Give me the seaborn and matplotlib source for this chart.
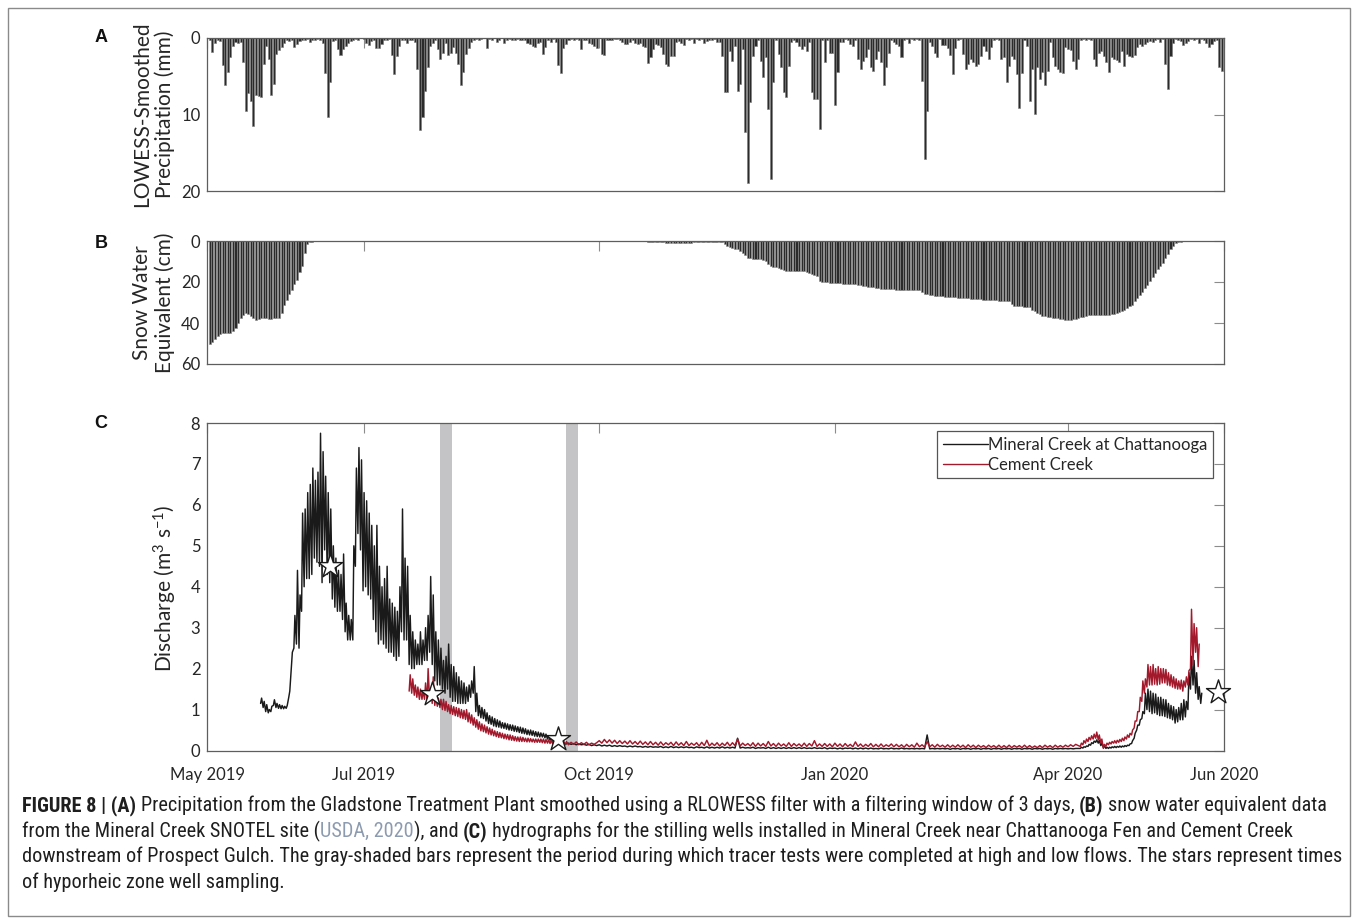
import numpy as np
import pandas as pd
import matplotlib
matplotlib.use("Agg")
import matplotlib.pyplot as plt
import seaborn as sns
from matplotlib.lines import Line2D
from matplotlib.patches import Rectangle
from matplotlib import font_manager

# ---------------- data ----------------
precip_start = "2019-05-01"
precip_mm = [
    0, 0.3, 1.8, 0.6, 0.3, 0.4, 3.5, 6.1, 4.4, 2.5,
    1.0, 0.5, 0.6, 0.5, 3.2, 9.5, 7.2, 8.2, 11.5, 7.4,
    7.6, 7.7, 3.4, 1.0, 2.7, 7.5, 6.0, 2.1, 1.6, 1.2,
    0.6, 0.3, 0.4, 0.2, 1.2, 0.8, 0.4, 0.2, 0.3, 0.1,
    0.5, 0.2, 0.3, 0.1, 0.2, 0.6, 4.6, 10.3, 5.8, 0.4,
    0.3, 1.4, 2.2, 1.4, 1.0, 0.6, 0.4, 0.2, 0.1, 0.2,
    0.0, 0.1, 0.6, 0.9, 0.4, 0.2, 1.3, 1.3, 0.8, 0.2,
    0.3, 0.1, 2.2, 4.7, 2.4, 1.0, 0.3, 0.2, 0.6, 0.2,
    0.3, 0.5, 4.1, 12.0, 10.3, 6.9, 3.8, 1.0, 0.6, 0.3,
    1.4, 2.8, 1.9, 0.6, 2.2, 1.9, 1.2, 1.9, 3.4, 6.1,
    4.4, 2.1, 1.3, 0.5, 0.2, 0.1, 0.2, 0.1, 0.0, 1.3,
    0.1, 0.2, 0.0, 0.5, 0.2, 0.0, 0.7, 0.2, 0.1, 0.3,
    0.2, 0.1, 0.2, 0.3, 0.2, 0.6, 0.8, 1.0, 1.2, 0.6,
    0.5, 2.1, 1.2, 0.3, 0.5, 0.1, 0.5, 3.5, 4.6, 1.3,
    0.8, 0.2, 0.1, 0.2, 0.1, 0.2, 1.5, 0.3, 0.3, 0.6,
    0.8, 1.0, 1.3, 0.0, 2.1, 2.2, 0.3, 0.2, 0.3, 0.1,
    0.1, 0.2, 0.5, 0.8, 0.8, 0.5, 0.2, 0.6, 0.8, 0.6,
    1.1, 1.2, 3.3, 2.5, 1.4, 0.8, 0.9, 1.2, 2.1, 3.4,
    3.6, 2.3, 2.4, 0.5, 0.4, 0.7, 0.9, 0.1, 0.2, 0.1,
    0.6, 0.1, 0.2, 0.1, 0.7, 0.4, 0.2, 0.2, 0.1, 0.5,
    0.5, 2.3, 7.0, 7.0, 1.7, 3.0, 1.0, 6.9, 6.0, 1.4,
    12.3, 19.0, 8.4, 2.3, 1.0, 0.2, 3.0, 5.1, 2.5, 9.3,
    18.4, 5.8, 0.3, 2.1, 3.8, 7.1, 7.7, 3.6, 0.5, 0.2,
    0.5, 1.1, 1.4, 1.0, 1.7, 0.5, 7.1, 8.0, 8.0, 11.9,
    0.3, 3.2, 0.2, 1.9, 1.9, 8.7, 4.4, 0.5, 0.5, 0.1,
    0.2, 0.8, 1.0, 0.2, 2.8, 4.1, 3.0, 2.5, 1.4, 3.8,
    4.3, 2.7, 1.7, 3.2, 6.2, 3.8, 1.9, 0.3, 0.5, 0.8,
    1.0, 2.5, 0.2, 0.1, 0.6, 0.1, 0.2, 0.1, 0.2, 5.6,
    15.8, 9.6, 0.5, 1.0, 1.9, 2.5, 0.1, 0.9, 0.9, 1.3,
    2.2, 4.7, 1.3, 0.3, 0.1, 2.1, 4.0, 3.4, 2.7, 3.2,
    3.6, 3.4, 2.3, 1.0, 1.7, 2.8, 1.2, 0.2, 0.1, 0.2,
    2.7, 2.5, 5.7, 3.6, 2.3, 2.7, 4.7, 9.2, 4.6, 0.2,
    1.1, 8.2, 4.0, 9.9, 3.8, 5.3, 4.5, 6.2, 4.3, 0.5,
    2.5, 3.6, 4.0, 4.4, 4.6, 1.2, 1.4, 1.6, 3.0, 4.1,
    2.7, 0.3, 0.1, 0.2, 0.1, 0.2, 2.7, 3.6, 1.9, 1.7,
    2.3, 3.1, 4.4, 2.5, 2.7, 2.9, 3.1, 1.7, 3.6, 2.1,
    2.3, 2.5, 2.2, 1.2, 0.8, 1.0, 0.8, 0.5, 0.4, 0.5,
    0.2, 0.1, 0.5, 0.1, 3.4, 6.7, 2.3, 0.6, 0.1, 0.2,
    0.4, 0.9, 0.6, 0.4, 0.1, 0.2, 0.1, 0.6, 0.1, 0.2,
    0.6, 1.2, 0.8, 0.4, 0.2, 3.8, 4.3,
]

swe_spring_start = "2019-05-02"
swe_spring_cm = [
    50.2, 49.5, 48, 46.5, 45.5, 45, 45, 45, 44.8, 44,
    42.5, 40, 37.6, 36, 35, 35.5, 36.5, 37.5, 38.4, 38,
    37.6, 37.6, 37.6, 38, 38, 37.6, 37.6, 37.6, 35, 31,
    28.6, 26, 23.7, 21, 18.8, 15, 12.3, 6, 1.5, 0.6, 0.3,
]
swe_winter_start = "2019-10-20"
swe_winter_cm = [
    0.5, 0.6, 0.4, 0.3, 0.3, 0.4, 0.6, 0.8, 0.9, 1.0,
    1.1, 1.1, 1.0, 1.0, 1.1, 1.0, 0.9, 0.8, 0.7, 0.6,
    0.5, 0.5, 0.4, 0.4, 0.3, 0.3, 0.3, 0.4, 0.5, 0.6,
    1.5, 2.5, 3.0, 3.5, 4.0, 4.1, 5.0, 5.7, 7.0, 8.2,
    8.5, 8.7, 8.8, 9.0, 9.0, 9.2, 9.8, 11.0, 12.3, 12.6,
    12.8, 13.0, 13.5, 14.0, 14.5, 14.7, 14.7, 14.7, 14.7, 14.7,
    14.7, 14.7, 15.0, 15.5, 16.0, 16.5, 17.2, 19.6, 19.8, 20.0,
    20.2, 20.4, 20.4, 20.5, 20.6, 20.7, 20.8, 20.9, 21.0, 21.0,
    21.1, 21.2, 21.4, 21.6, 21.8, 22.0, 22.2, 22.4, 22.5, 22.8,
    23.0, 23.2, 23.4, 23.5, 23.5, 23.6, 23.6, 23.7, 23.7, 23.7,
    23.8, 23.8, 23.9, 23.9, 24.0, 24.0, 24.0, 25.0, 26.0, 26.0,
    26.2, 26.4, 26.6, 26.8, 27.0, 27.0, 27.1, 27.2, 27.3, 27.4,
    27.5, 27.6, 27.7, 27.8, 27.8, 28.0, 28.1, 28.2, 28.3, 28.4,
    28.5, 28.6, 28.6, 28.6, 28.7, 28.9, 29.0, 29.2, 29.3, 29.4,
    29.4, 29.4, 30.5, 31.5, 31.5, 31.7, 31.9, 32.0, 32.1, 32.2,
    33.5, 34.3, 35.0, 35.8, 36.4, 36.8, 37.0, 37.2, 37.4, 37.6,
    37.6, 38.0, 38.2, 38.4, 38.4, 38.4, 38.2, 38.0, 37.7, 37.3,
    37.0, 36.5, 36.2, 36.0, 36.0, 36.0, 36.0, 36.0, 36.0, 36.0,
    36.0, 35.8, 35.5, 35.0, 34.5, 34.3, 33.5, 32.5, 31.5, 31.0,
    29.5, 28.0, 26.5, 25.0, 23.0, 21.5, 19.6, 17.5, 15.5, 13.5,
    12.3, 10.5, 8.5, 6.5, 4.1, 2.5, 0.8, 0.5, 0.3, 0.2,
]

# Mineral Creek at Chattanooga: daily low / high during snowmelt 2019
mineral_peak_start = "2019-05-22"
mineral_peak_lo = [
    1.15, 1.05, 0.95, 0.92, 0.95, 1.10, 1.05, 1.03, 1.02, 1.02,
    1.03, 1.30, 2.00, 2.50, 2.60, 2.50, 3.40, 4.00, 4.20, 4.20,
    4.30, 4.70, 4.60, 4.50, 4.10, 4.90, 4.30, 4.10, 3.70, 3.50,
    3.40, 3.40, 3.20, 2.90, 2.70, 2.70, 2.70, 4.50, 5.30, 4.90,
    3.90, 4.00, 3.80, 3.70, 3.20, 2.90, 2.60, 2.70, 2.60, 2.50,
    2.40, 2.40, 2.30, 2.20, 2.30, 2.90, 2.70, 2.70, 2.10, 2.00,
    2.00, 2.10, 2.10, 2.10, 2.20, 2.20, 2.40, 2.10, 1.70, 1.60,
    1.60, 1.50, 1.40, 1.50, 1.30, 1.20, 1.20, 1.15, 1.15, 1.15,
    1.15, 1.20, 1.30, 1.40, 0.95, 0.85, 0.80, 0.78, 0.72, 0.66,
    0.64, 0.60, 0.58, 0.57, 0.55, 0.54, 0.52, 0.50, 0.49, 0.47,
    0.46, 0.44, 0.42, 0.41, 0.39, 0.38, 0.37, 0.35, 0.34, 0.33,
    0.33, 0.31, 0.28, 0.25, 0.22, 0.20,
]
mineral_peak_hi = [
    1.28, 1.20, 1.12, 1.00, 1.08, 1.24, 1.15, 1.12, 1.10, 1.08,
    1.10, 1.45, 2.40, 3.30, 4.40, 3.80, 5.80, 5.90, 6.30, 6.50,
    6.90, 6.60, 6.80, 7.75, 7.30, 6.70, 6.30, 5.90, 5.00, 4.70,
    4.40, 4.30, 4.80, 3.60, 3.30, 3.20, 5.00, 6.90, 7.40, 7.10,
    6.30, 6.10, 5.80, 5.50, 5.00, 5.50, 4.50, 4.00, 4.20, 4.50,
    3.70, 3.60, 3.50, 3.40, 4.00, 5.90, 4.70, 4.50, 3.30, 2.90,
    2.70, 2.60, 2.90, 2.70, 3.00, 3.30, 4.25, 3.80, 2.90, 2.70,
    2.50, 2.20, 2.30, 2.60, 2.10, 2.05, 1.90, 1.80, 1.70, 1.65,
    1.55, 1.60, 1.70, 2.05, 1.40, 1.10, 1.05, 1.00, 0.92, 0.85,
    0.82, 0.78, 0.75, 0.72, 0.68, 0.67, 0.65, 0.63, 0.62, 0.60,
    0.58, 0.57, 0.55, 0.53, 0.50, 0.50, 0.48, 0.46, 0.45, 0.43,
    0.42, 0.40, 0.36, 0.32, 0.28, 0.26,
]
mineral_base_start = "2019-09-15"
mineral_base = [
    0.20, 0.17, 0.19, 0.16, 0.18, 0.15, 0.17, 0.14, 0.16, 0.14,
    0.15, 0.13, 0.15, 0.12, 0.14, 0.12, 0.14, 0.11, 0.13, 0.11,
    0.13, 0.10, 0.12, 0.10, 0.12, 0.10, 0.11, 0.09, 0.11, 0.09,
    0.11, 0.09, 0.10, 0.08, 0.10, 0.08, 0.10, 0.08, 0.09, 0.08,
    0.10, 0.07, 0.09, 0.07, 0.10, 0.07, 0.09, 0.07, 0.09, 0.07,
    0.09, 0.07, 0.08, 0.06, 0.09, 0.07, 0.08, 0.06, 0.09, 0.06,
    0.08, 0.06, 0.08, 0.06, 0.09, 0.06, 0.08, 0.06, 0.08, 0.06,
    0.30, 0.06, 0.08, 0.06, 0.07, 0.06, 0.08, 0.05, 0.07, 0.06,
    0.07, 0.05, 0.08, 0.05, 0.07, 0.05, 0.07, 0.05, 0.07, 0.05,
    0.07, 0.05, 0.07, 0.05, 0.07, 0.05, 0.07, 0.05, 0.06, 0.05,
    0.07, 0.05, 0.06, 0.05, 0.07, 0.04, 0.06, 0.05, 0.06, 0.04,
    0.06, 0.04, 0.06, 0.05, 0.06, 0.04, 0.06, 0.04, 0.06, 0.04,
    0.06, 0.04, 0.06, 0.04, 0.05, 0.04, 0.06, 0.04, 0.05, 0.04,
    0.06, 0.04, 0.05, 0.04, 0.06, 0.04, 0.05, 0.04, 0.05, 0.04,
    0.05, 0.04, 0.05, 0.04, 0.38, 0.04, 0.05, 0.04, 0.05, 0.04,
    0.05, 0.04, 0.05, 0.03, 0.05, 0.04, 0.05, 0.03, 0.05, 0.04,
    0.05, 0.03, 0.05, 0.04, 0.05, 0.03, 0.05, 0.04, 0.05, 0.03,
    0.05, 0.04, 0.05, 0.03, 0.05, 0.04, 0.05, 0.03, 0.05, 0.04,
    0.05, 0.03, 0.05, 0.04, 0.05, 0.03, 0.05, 0.04, 0.05, 0.03,
    0.05, 0.04, 0.05, 0.03, 0.05, 0.04, 0.05, 0.04, 0.05, 0.04,
    0.05, 0.04, 0.05, 0.05,
]
mineral_melt_start = "2020-04-06"
mineral_melt_lo = [
    0.05, 0.06, 0.08, 0.10, 0.13, 0.17, 0.20, 0.18, 0.12, 0.07,
    0.05, 0.05, 0.06, 0.07, 0.07, 0.08, 0.08, 0.09, 0.10, 0.12,
    0.17, 0.30, 0.50, 0.62, 0.78, 0.90, 1.00, 0.95, 0.90, 0.92,
    0.88, 0.85, 0.85, 0.83, 0.80, 0.78, 0.75, 0.67, 0.70, 0.75,
    0.75, 0.82, 1.00, 1.50, 1.60, 1.40, 1.25, 1.15,
]
mineral_melt_hi = [
    0.08, 0.09, 0.11, 0.15, 0.19, 0.23, 0.26, 0.25, 0.18, 0.11,
    0.08, 0.08, 0.09, 0.10, 0.10, 0.11, 0.11, 0.12, 0.13, 0.16,
    0.24, 0.42, 0.62, 0.75, 0.95, 1.40, 1.50, 1.45, 1.40, 1.38,
    1.30, 1.30, 1.25, 1.24, 1.15, 1.10, 1.07, 1.00, 1.05, 1.15,
    1.24, 1.20, 1.90, 2.30, 2.20, 1.90, 1.56, 1.40,
]

# Cement Creek
cement_peak_start = "2019-07-19"
cement_peak_lo = [
    1.45, 1.40, 1.35, 1.30, 1.25, 1.25, 1.25, 1.20, 1.20, 1.15,
    1.10, 1.08, 1.05, 1.00, 0.98, 0.95, 0.90, 0.88, 0.85, 0.83,
    0.80, 0.78, 0.76, 0.70, 0.67, 0.62, 0.57, 0.52, 0.48, 0.46,
    0.43, 0.40, 0.38, 0.36, 0.34, 0.32, 0.31, 0.29, 0.28, 0.26,
    0.25, 0.24, 0.23, 0.22, 0.22, 0.22, 0.21, 0.21, 0.21, 0.20,
    0.20, 0.20, 0.19, 0.18, 0.18, 0.17, 0.16, 0.16, 0.15, 0.15,
    0.14, 0.14,
]
cement_peak_hi = [
    1.85, 1.75, 1.60, 1.55, 1.50, 1.45, 1.65, 2.00, 1.50, 1.80,
    1.30, 1.28, 1.25, 1.25, 1.20, 1.12, 1.10, 1.07, 1.05, 1.03,
    1.00, 0.98, 1.00, 0.92, 0.87, 0.80, 0.75, 0.70, 0.65, 0.62,
    0.58, 0.55, 0.52, 0.48, 0.46, 0.44, 0.42, 0.40, 0.39, 0.38,
    0.36, 0.34, 0.33, 0.33, 0.32, 0.30, 0.30, 0.29, 0.28, 0.28,
    0.28, 0.28, 0.28, 0.27, 0.26, 0.25, 0.24, 0.24, 0.23, 0.22,
    0.22, 0.22,
]
cement_base_start = "2019-09-19"
cement_base = [
    0.14, 0.20, 0.15, 0.21, 0.14, 0.19, 0.15, 0.20, 0.14, 0.18,
    0.15, 0.19, 0.24, 0.18, 0.27, 0.19, 0.26, 0.18, 0.25, 0.17,
    0.24, 0.17, 0.23, 0.16, 0.24, 0.16, 0.22, 0.15, 0.23, 0.15,
    0.21, 0.14, 0.22, 0.14, 0.20, 0.13, 0.21, 0.13, 0.19, 0.14,
    0.20, 0.12, 0.21, 0.13, 0.19, 0.12, 0.22, 0.12, 0.18, 0.13,
    0.19, 0.11, 0.20, 0.12, 0.25, 0.11, 0.18, 0.12, 0.19, 0.11,
    0.18, 0.12, 0.20, 0.11, 0.19, 0.12, 0.28, 0.11, 0.18, 0.12,
    0.17, 0.11, 0.19, 0.10, 0.18, 0.11, 0.17, 0.10, 0.22, 0.11,
    0.17, 0.10, 0.18, 0.11, 0.16, 0.10, 0.19, 0.10, 0.17, 0.11,
    0.16, 0.10, 0.18, 0.10, 0.17, 0.11, 0.24, 0.10, 0.16, 0.10,
    0.17, 0.10, 0.16, 0.09, 0.18, 0.10, 0.16, 0.09, 0.17, 0.10,
    0.15, 0.09, 0.21, 0.10, 0.16, 0.09, 0.15, 0.10, 0.17, 0.09,
    0.15, 0.09, 0.16, 0.09, 0.14, 0.10, 0.16, 0.09, 0.15, 0.09,
    0.14, 0.08, 0.15, 0.09, 0.14, 0.08, 0.18, 0.09, 0.14, 0.08,
    0.22, 0.09, 0.14, 0.08, 0.15, 0.09, 0.13, 0.08, 0.14, 0.08,
    0.13, 0.08, 0.14, 0.08, 0.13, 0.07, 0.14, 0.08, 0.13, 0.07,
    0.13, 0.08, 0.12, 0.07, 0.13, 0.08, 0.12, 0.07, 0.13, 0.07,
    0.12, 0.07, 0.13, 0.07, 0.12, 0.08, 0.12, 0.07, 0.13, 0.07,
    0.12, 0.07, 0.11, 0.07, 0.12, 0.07, 0.13, 0.08, 0.12, 0.07,
    0.13, 0.08, 0.12, 0.08, 0.13, 0.09, 0.14, 0.10, 0.15, 0.12,
]
cement_melt_start = "2020-04-06"
cement_melt_lo = [
    0.10, 0.14, 0.18, 0.22, 0.26, 0.28, 0.30, 0.26, 0.18, 0.05,
    0.10, 0.14, 0.16, 0.18, 0.18, 0.20, 0.22, 0.24, 0.28, 0.32,
    0.38, 0.55, 0.72, 0.95, 1.20, 1.40, 1.55, 1.60, 1.60, 1.62,
    1.60, 1.62, 1.65, 1.65, 1.60, 1.58, 1.55, 1.52, 1.50, 1.50,
    1.45, 1.55, 1.60, 2.00, 2.10, 2.40, 2.05,
]
cement_melt_hi = [
    0.18, 0.24, 0.28, 0.32, 0.36, 0.40, 0.45, 0.38, 0.28, 0.15,
    0.18, 0.20, 0.22, 0.24, 0.25, 0.27, 0.30, 0.33, 0.38, 0.42,
    0.50, 0.72, 0.95, 1.30, 1.70, 1.75, 2.10, 2.05, 2.10, 2.00,
    2.05, 2.00, 2.00, 1.98, 1.90, 1.85, 1.80, 1.75, 1.70, 1.72,
    1.70, 1.80, 1.95, 3.45, 3.10, 3.00, 2.60,
]

tracer_start = ["2019-07-30 20:00", "2019-09-18 00:00"]
tracer_end = ["2019-08-04 12:00", "2019-09-22 16:00"]
star_times = ["2019-06-17 22:00", "2019-07-27 17:00", "2019-09-14 22:00", "2020-05-29 12:00"]
star_q = [4.5, 1.39, 0.28, 1.42]

tick_dates = ["2019-05-01", "2019-07-01", "2019-10-01", "2020-01-01", "2020-04-01", "2020-06-01"]
tick_labels = ["May 2019", "Jul 2019", "Oct 2019", "Jan 2020", "Apr 2020", "Jun 2020"]
series_labels = ["Mineral Creek at Chattanooga", "Cement Creek"]
series_colors = ["#1a1a1a", "#a3192c"]

# ---------------- helpers ----------------
ORIGIN = pd.Timestamp("2019-05-01")


def day_of(t):
    return (pd.Timestamp(t) - ORIGIN) / pd.Timedelta(days=1)


def daily_x(start, n):
    return day_of(start) + np.arange(n, dtype=float)


def zigzag(start, lo, hi):
    d = daily_x(start, len(lo))
    x = np.empty(2 * len(lo))
    y = np.empty(2 * len(lo))
    x[0::2] = d - 0.2
    x[1::2] = d + 0.2
    y[0::2] = lo
    y[1::2] = hi
    return x, y


def build_series(peak_start, lo, hi, base_start, base, melt_start, mlo, mhi):
    x1, y1 = zigzag(peak_start, lo, hi)
    x2 = daily_x(base_start, len(base))
    y2 = np.asarray(base, float)
    x3, y3 = zigzag(melt_start, mlo, mhi)
    return np.concatenate([x1, x2, x3]), np.concatenate([y1, y2, y3])


# ---------------- figure ----------------
sns.set_theme(style="white")
FONT = ["Lato", "DejaVu Sans"]
plt.rcParams["font.family"] = FONT
plt.rcParams["mathtext.fontset"] = "custom"
plt.rcParams["mathtext.rm"] = "Lato"
plt.rcParams["mathtext.it"] = "Lato:italic"
plt.rcParams["mathtext.bf"] = "Lato:bold"

W, H = 1358, 924
fig = plt.figure(figsize=(W / 100, H / 100), dpi=100)
fig.patch.set_facecolor("white")

XL, XR = 207.3, 1224.3


def add_ax(top, bottom):
    return fig.add_axes([XL / W, 1 - bottom / H, (XR - XL) / W, (bottom - top) / H])


axA = add_ax(38, 191)
axB = add_ax(241, 364)
axC = add_ax(423, 750.5)

TXT = "#262626"
tick_days = [day_of(t) for t in tick_dates]

# Panel A
df_p = pd.DataFrame({"day": daily_x(precip_start, len(precip_mm)), "mm": precip_mm})
sns.barplot(data=df_p, x="day", y="mm", native_scale=True, orient="x", color="#2b2b2b",
            saturation=1, edgecolor="#7a7a7a", linewidth=0.4, errorbar=None, ax=axA)
axA.set_ylim(20, 0)
axA.set_yticks([0, 10, 20])

# Panel B
df_s = pd.DataFrame({
    "day": np.concatenate([daily_x(swe_spring_start, len(swe_spring_cm)),
                           daily_x(swe_winter_start, len(swe_winter_cm))]),
    "cm": swe_spring_cm + swe_winter_cm,
})
sns.barplot(data=df_s, x="day", y="cm", native_scale=True, orient="x", color="#2b2b2b",
            saturation=1, edgecolor="#8a8a8a", linewidth=0.4, errorbar=None, ax=axB)
axB.set_ylim(60, 0)
axB.set_yticks([0, 20, 40, 60])

# Panel C
for s, e in zip(tracer_start, tracer_end):
    axC.axvspan(day_of(s), day_of(e), color="#c4c4c6", lw=0, zorder=0)

xm, ym = build_series(mineral_peak_start, mineral_peak_lo, mineral_peak_hi,
                      mineral_base_start, mineral_base,
                      mineral_melt_start, mineral_melt_lo, mineral_melt_hi)
xc, yc = build_series(cement_peak_start, cement_peak_lo, cement_peak_hi,
                      cement_base_start, cement_base,
                      cement_melt_start, cement_melt_lo, cement_melt_hi)
sns.lineplot(x=xm, y=ym, sort=False, estimator=None, color=series_colors[0], lw=1.05, ax=axC, zorder=2)
sns.lineplot(x=xc, y=yc, sort=False, estimator=None, color=series_colors[1], lw=1.05, ax=axC, zorder=3)
sns.scatterplot(x=[day_of(t) for t in star_times], y=star_q, marker="*", s=330, color="white",
                edgecolor="#1a1a1a", linewidth=1.0, zorder=6, clip_on=False, legend=False, ax=axC)
axC.set_ylim(0, 8)
axC.set_yticks(range(0, 9))

handles = [Line2D([], [], color=c, lw=1.0) for c in series_colors]
leg = axC.legend(handles, series_labels, loc="upper right",
                 bbox_to_anchor=((1213 - XL) / (XR - XL), (750.5 - 431) / 327.5),
                 frameon=True, fancybox=False, framealpha=1, edgecolor="#555555",
                 fontsize=12, handlelength=2.7, handletextpad=0.0, borderpad=0.35,
                 labelspacing=0.22, borderaxespad=0)
leg.get_frame().set_linewidth(0.9)
for t in leg.get_texts():
    t.set_color(TXT)

for ax in (axA, axB, axC):
    ax.set_xlim(0, day_of("2020-06-01"))
    ax.set_xticks(tick_days)
    ax.set_xlabel("")
    ax.set_ylabel("")
    ax.set_facecolor("white")
    ax.grid(False)
    ax.tick_params(axis="both", direction="in", length=7, width=0.8, color="#8c8c8c",
                   top=True, right=True, labelsize=12, labelcolor=TXT)
    ax.tick_params(axis="y", pad=5)
    for sp in ax.spines.values():
        sp.set_visible(True)
        sp.set_color("#5e5e5e")
        sp.set_linewidth(0.9)

axA.set_xticklabels([])
axB.set_xticklabels([])
axC.set_xticklabels(tick_labels)
axC.tick_params(axis="x", pad=12)

# y labels and panel letters
fig.text(153.5 / W, 1 - 114.5 / H, "LOWESS-Smoothed\nPrecipitation (mm)", rotation=90,
         ha="center", va="center", fontsize=15, linespacing=1.15, color=TXT)
fig.text(153.5 / W, 1 - 302.5 / H, "Snow Water\nEquivalent (cm)", rotation=90,
         ha="center", va="center", fontsize=15, linespacing=1.15, color=TXT)
fig.text(165 / W, 1 - 588 / H, "Discharge (m$^{3}$ s$^{-1}$)", rotation=90,
         ha="center", va="center", fontsize=15, color=TXT)
for letter, yy in (("A", 38), ("B", 244), ("C", 423)):
    fig.text(101 / W, 1 - yy / H, letter, ha="center", va="center", fontsize=13,
             fontweight="bold", family=["Liberation Sans", "DejaVu Sans"], color="#111111")

# frame around figure + caption
fig.add_artist(Rectangle((8 / W, 1 - 916 / H), (1350 - 8) / W, (916 - 8) / H,
                         transform=fig.transFigure, fill=False, edgecolor="#8a8a8a", lw=1.0))

# caption: prefer a narrow sans if one is installed
installed = {f.name for f in font_manager.fontManager.ttflist}
narrow = [n for n in ("Liberation Sans Narrow", "Arial Narrow", "Roboto Condensed",
                      "Noto Sans Condensed", "Open Sans Condensed") if n in installed]
CAP_FAMILY = narrow[:1] + ["Liberation Sans", "DejaVu Sans"]
cap_lines = [
    [("FIGURE 8 | (A)", "b"),
     (" Precipitation from the Gladstone Treatment Plant smoothed using a RLOWESS filter with a filtering window of 3 days, ", "n"),
     ("(B)", "b"), (" snow water equivalent data", "n")],
    [("from the Mineral Creek SNOTEL site (", "n"), ("USDA, 2020", "g"), ("), and ", "n"), ("(C)", "b"),
     (" hydrographs for the stilling wells installed in Mineral Creek near Chattanooga Fen and Cement Creek", "n")],
    [("downstream of Prospect Gulch. The gray-shaded bars represent the period during which tracer tests were completed at high and low flows. The stars represent times", "n")],
    [("of hyporheic zone well sampling.", "n")],
]
cap_baselines = [811, 837, 862, 888]
renderer = fig.canvas.get_renderer()


def tw(s, size, weight):
    t1 = fig.text(0, 0, "|" + s + "|", fontsize=size, fontweight=weight, family=CAP_FAMILY)
    t2 = fig.text(0, 0, "||", fontsize=size, fontweight=weight, family=CAP_FAMILY)
    w = t1.get_window_extent(renderer).width - t2.get_window_extent(renderer).width
    t1.remove()
    t2.remove()
    return w


def line_width(runs, size):
    return sum(tw(txt, size, "bold" if st == "b" else "normal") for txt, st in runs)


base_size = 12.0
w_max = max(line_width(runs, base_size) for runs in cap_lines)
cap_size = base_size * (1336 - 22) / w_max

for runs, yb in zip(cap_lines, cap_baselines):
    cur = 22.0
    for txt, st in runs:
        weight = "bold" if st == "b" else "normal"
        color = "#8d9bb0" if st == "g" else "#1e1e1e"
        core = txt.strip(" ")
        lead = len(txt) - len(txt.lstrip(" "))
        trail = len(txt) - len(txt.rstrip(" "))
        sp_w = tw(" ", cap_size, weight)
        cur += lead * sp_w
        fig.text(cur / W, 1 - yb / H, core, fontsize=cap_size, fontweight=weight,
                 family=CAP_FAMILY, color=color, ha="left", va="baseline")
        cur += tw(core, cap_size, weight) + trail * sp_w

fig.savefig("out.png", dpi=100, facecolor="white")
